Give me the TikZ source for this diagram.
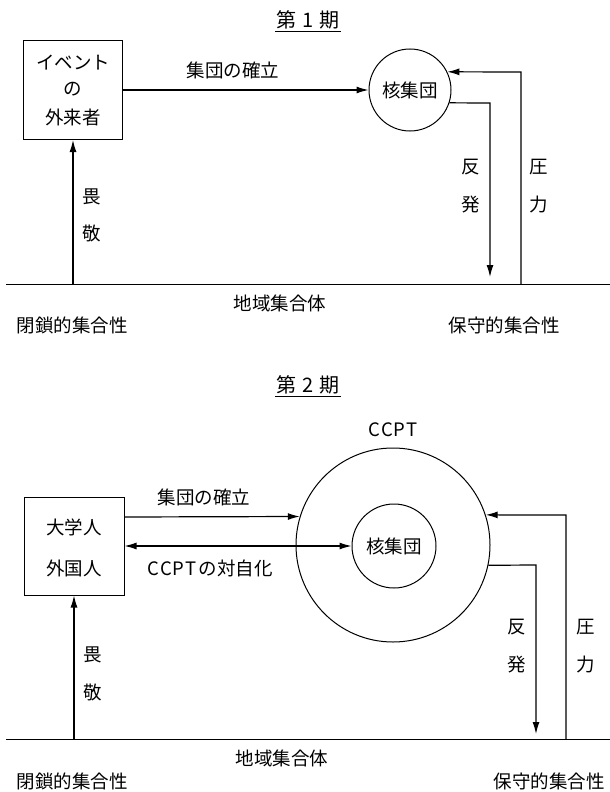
\documentclass[tikz,border=0pt]{standalone}
\usepackage{fontspec}
\setmainfont{Noto Sans CJK JP}
\usetikzlibrary{arrows.meta}
\tikzset{
  lbl/.style={font=\fontsize{18.5}{20}\selectfont, inner sep=0pt},
  ttl/.style={font=\fontsize{20}{22}\selectfont, inner sep=1pt},
  box/.style={draw, line width=1pt, inner sep=0pt},
  ring/.style={draw, circle, line width=1pt, inner sep=0pt},
  arr/.style={line width=1.2pt, -{Latex[length=12pt,width=7pt]}},
  arrboth/.style={line width=1.2pt, {Latex[length=12pt,width=7pt]}-{Latex[length=12pt,width=7pt]}},
  ground/.style={line width=1pt}
}
\begin{document}
\begin{tikzpicture}[x=1pt,y=-1pt]
\useasboundingbox (0,0) rectangle (610,792);
% ===== Period 1 =====
\node[ttl] (t1) at (308,20) {第\hspace{0.3em}1\hspace{0.3em}期};
\draw[line width=0.9pt] ([yshift=-1pt]t1.south west) -- ([yshift=-1pt]t1.south east);
\node[box, minimum width=99pt, minimum height=99pt] (b1) at (73,90) {};
\node[lbl] (b1a) at (73,63) {イベント};
\node[lbl] (b1b) at (73,89) {の};
\node[lbl] (b1c) at (73,117) {外来者};
\node[ring, minimum size=82pt] (c1) at (410,90) {};
\node[lbl] (c1t) at (410,90) {核集団};
\draw[arr] (b1) -- (c1);
\node[lbl] (e1) at (233,70) {集団の確立};
\coordinate (g1l) at (6,284);
\coordinate (g1r) at (610,284);
\draw[ground] (g1l) -- (g1r);
\coordinate (u1) at (73,284);
\draw[arr] (u1) -- (b1.south);
\node[lbl] (i1a) at (92,197) {畏};
\node[lbl] (i1b) at (92,233) {敬};
\coordinate (r1a) at (490,103);
\coordinate (r1b) at (490,277);
\draw[arr] (c1.-18) -- (r1a) -- (r1b);
\node[lbl] (h1a) at (471,167) {反};
\node[lbl] (h1b) at (471,205) {発};
\coordinate (p1a) at (521,284);
\coordinate (p1b) at (521,72);
\draw[arr] (p1a) -- (p1b) -- (c1.26);
\node[lbl] (k1a) at (539,167) {圧};
\node[lbl] (k1b) at (539,205) {力};
\node[lbl] (l1) at (280,303) {地域集合体};
\node[lbl] (m1) at (72,325) {閉鎖的集合性};
\node[lbl] (n1) at (504,325) {保守的集合性};
% ===== Period 2 =====
\node[ttl] (t2) at (308,385) {第\hspace{0.3em}2\hspace{0.3em}期};
\draw[line width=0.9pt] ([yshift=-1pt]t2.south west) -- ([yshift=-1pt]t2.south east);
\node[lbl] (cc) at (393,430) {C\kern1ptC\kern1ptP\kern1ptT};
\node[ring, minimum size=194pt] (c2) at (393,545) {};
\node[ring, minimum size=84pt] (c2in) at (394,546) {};
\node[lbl] (c2t) at (394,546) {核集団};
\node[box, minimum width=100pt, minimum height=98pt] (b2) at (74,546) {};
\node[lbl] (b2a) at (74,527) {大学人};
\node[lbl] (b2b) at (74,568) {外国人};
\coordinate (s2) at (b2.east |- 0,517);
\draw[arr] (s2) -- (c2.163);
\node[lbl] (e2) at (204,497) {集団の確立};
\draw[arrboth] (b2) -- (c2in);
\node[lbl] (f2) at (210,568) {C\kern1ptC\kern1ptP\kern1ptT\kern2ptの対自化};
\coordinate (g2l) at (6,739);
\coordinate (g2r) at (610,739);
\draw[ground] (g2l) -- (g2r);
\coordinate (u2) at (74,739);
\draw[arr] (u2) -- (b2.south);
\node[lbl] (i2a) at (93,655) {畏};
\node[lbl] (i2b) at (93,692) {敬};
\coordinate (r2a) at (536,565);
\coordinate (r2b) at (536,734);
\draw[arr] (c2.-12) -- (r2a) -- (r2b);
\node[lbl] (h2a) at (517,627) {反};
\node[lbl] (h2b) at (517,665) {発};
\coordinate (p2a) at (566,739);
\coordinate (p2b) at (566,515);
\draw[arr] (p2a) -- (p2b) -- (c2.18);
\node[lbl] (k2a) at (586,627) {圧};
\node[lbl] (k2b) at (586,665) {力};
\node[lbl] (l2) at (282,758) {地域集合体};
\node[lbl] (m2) at (72,781) {閉鎖的集合性};
\node[lbl] (n2) at (549,781) {保守的集合性};
\end{tikzpicture}
\end{document}
